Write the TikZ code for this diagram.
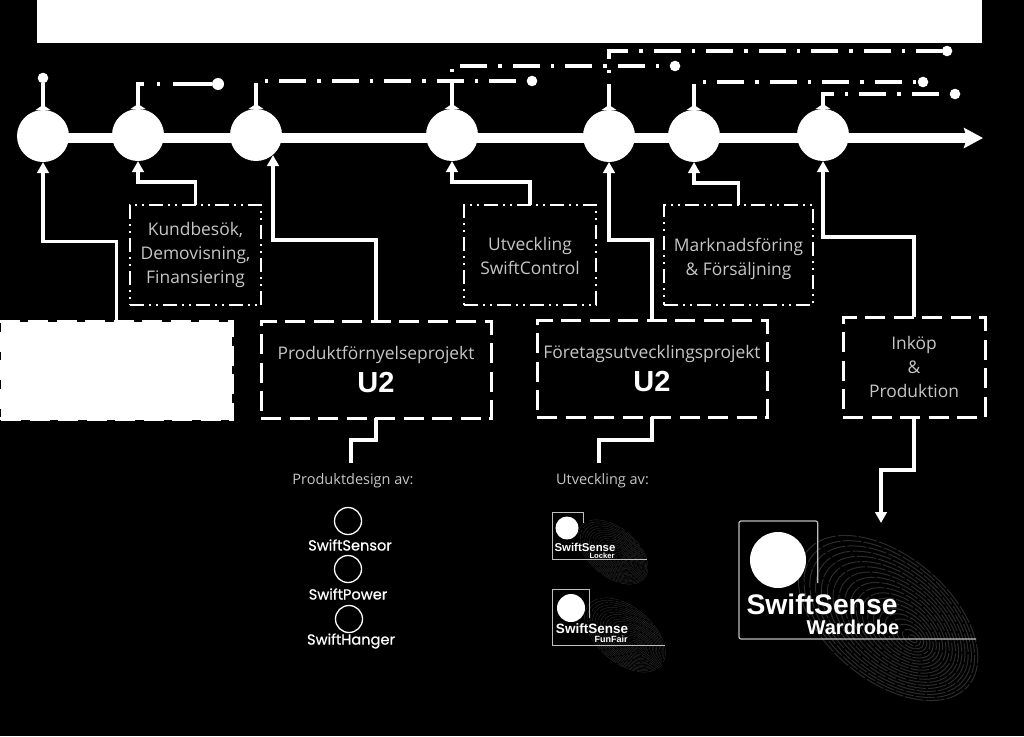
\documentclass[tikz,border=0pt]{standalone}
\usepackage{fontspec}
\setmainfont{Open Sans}
\newfontfamily\logofont{Liberation Sans}
\newfontfamily\swiftfont[FakeBold=0.6]{Poppins}
\usetikzlibrary{arrows.meta, calc, positioning}
\definecolor{softwhite}{RGB}{198,198,198}
\definecolor{ridgegray}{RGB}{44,44,44}
\definecolor{logoline}{RGB}{190,190,190}
\tikzset{fingerprint/.pic={
    \foreach \k in {1,...,20}
        \draw[ridgegray, line width=#1, dash pattern=on 19pt off 2pt, dash phase=7*\k pt]
            ({34-1.7*\k},0) ellipse [x radius=5.25*\k, y radius=3.1*\k];
}}

\begin{document}
\begin{tikzpicture}[x=1pt, y=-1pt, >=Stealth,
        station/.style={circle, fill=white, inner sep=0pt, outer sep=0pt, minimum size=52pt},
        enddot/.style={circle, fill=white, inner sep=0pt, outer sep=0pt, minimum size=10.6pt},
        spine/.style={white, line width=9.4pt, -{Stealth[length=19pt, width=20pt, inset=3pt]}},
        stem/.style={white, line width=3.6pt, {Triangle[reversed, length=5pt, width=15pt]}-},
        outflow/.style={stem, dash pattern=on 27pt off 11pt on 3.5pt off 11pt, dash phase=5pt},
        feed/.style={white, line width=3.4pt, -{Triangle[length=11pt, width=11.5pt]}},
        branch/.style={white, line width=3.4pt},
        thinbox/.style={draw=white, line width=1.8pt, inner sep=0pt, outer sep=0pt, align=center, text=softwhite,
            dash pattern=on 14pt off 5pt on 2pt off 5pt on 2pt off 5pt, font=\fontsize{17.4}{24}\selectfont},
        dashbox/.style={draw=white, line width=3pt, inner sep=0pt, outer sep=0pt, align=center, text=softwhite,
            dash pattern=on 20pt off 8.5pt, font=\fontsize{17.4}{24}\selectfont},
        caption/.style={text=softwhite, font=\fontsize{14.5}{16}\selectfont},
        swift/.style={white, font=\swiftfont\fontsize{14.6}{16}\selectfont},
        ring/.style={circle, draw=white, line width=1.3pt, minimum size=27pt, inner sep=0pt},
        logotext/.style={white, inner sep=0pt, font=\logofont\bfseries},
        logodisc/.style={circle, fill=white, inner sep=0pt}]

        \useasboundingbox (0,0) rectangle (1024,736);
        \fill[black] (0,0) rectangle (1024,736);

        % Header
        \node[fill=white, inner sep=0pt, minimum width=945pt, minimum height=43pt] (header) at (509.5,21.5) {};

        % Spine
        \coordinate (spinestart) at (43,138);
        \coordinate (spineend) at (983,138);
        \draw[spine] (spinestart) -- (spineend);

        % Stations
        \node[station] (s1) at (43,136) {};
        \node[station] (s2) at (138,135) {};
        \node[station] (s3) at (256,135) {};
        \node[station] (s4) at (452,135) {};
        \node[station] (s5) at (609,136) {};
        \node[station] (s6) at (694,136) {};
        \node[station] (s7) at (823,135) {};

        % End dots
        \node[enddot] (e1) at (43,78) {};
        \node[enddot, minimum size=12pt] (e2) at (218,84) {};
        \node[enddot] (e3) at (532,81) {};
        \node[enddot] (e4) at (675,66) {};
        \node[enddot] (e5) at (947,51) {};
        \node[enddot] (e6) at (923,82) {};
        \node[enddot] (e7) at (955,94) {};

        % Outgoing lines
        \draw[stem] (s1) -- (e1);
        \draw[outflow, dash pattern=on 32pt off 13pt on 3.5pt off 13pt on 40pt off 0pt] (s2) |- (e2);
        \draw[outflow] (s3) |- (e3);
        \draw[outflow] (s4) |- (e4);
        \draw[outflow] (s5) |- (e5);
        \draw[outflow] (s6) |- (e6);
        \draw[outflow] (s7) |- (e7);

        % Activity boxes
        \node[thinbox, minimum width=131.5pt, minimum height=100pt] (kund) at (195.5,255) {Kundbesök,\\Demovisning,\\Finansiering};
        \node[thinbox, minimum width=132pt, minimum height=100pt, text depth=0pt] (utv) at (530,255) {\raisebox{-2pt}{Utveckling}\\\raisebox{-2pt}{SwiftControl}};
        \node[thinbox, minimum width=149pt, minimum height=100pt, text depth=0pt] (mark) at (738.5,255) {\raisebox{-4pt}{Marknadsföring}\\\raisebox{-4pt}{\& Försäljning}};

        % Project boxes
        \node[dashbox, fill=white, minimum width=231pt, minimum height=98pt] (blank) at (116.5,370.5) {};
        \node[dashbox, minimum width=230pt, minimum height=97pt] (prod) at (376,369.5) {Produktförnyelseprojekt\\[8pt]{\logofont\bfseries\fontsize{29}{30}\selectfont\color{white}U2}};
        \node[dashbox, minimum width=230pt, minimum height=97pt] (foretag) at (652,368.5) {Företagsutvecklingsprojekt\\[7pt]{\logofont\bfseries\fontsize{29}{30}\selectfont\color{white}U2}};
        \node[dashbox, minimum width=142pt, minimum height=100pt] (inkop) at (914,367) {Inköp\\\&\\Produktion};

        % Incoming lines
        \coordinate (s3in) at (273,155);
        \draw[feed] (blank.north) -- ++(0,-80) -| (s1);
        \draw[feed] (kund.north) -- ++(0,-23) -| (s2);
        \draw[feed] (prod.north) -- ++(0,-81) -| (s3in);
        \draw[feed] (utv.north) -- ++(0,-23) -| (s4);
        \draw[feed] (foretag.north) -- ++(0,-80) -| (s5);
        \draw[feed] (mark.north) -- ++(0,-22) -| (s6);
        \draw[feed] (inkop.north) -- ++(0,-80) -| (s7);

        % Lines down
        \coordinate (designtop) at (351,463);
        \coordinate (devtop) at (599,463);
        \coordinate (wardtop) at (881,523);
        \draw[branch] (prod.south) -- ++(0,22) -| (designtop);
        \draw[branch] (foretag.south) -- ++(0,23) -| (devtop);
        \draw[feed] (inkop.south) -- ++(0,53) -| (wardtop);

        % Product design
        \node[caption] (design) at (353,481) {Produktdesign av:};
        \node[ring] (r1) at (348,521) {};
        \node[swift] (sensor) at (350,545) {SwiftSensor};
        \node[ring] (r2) at (348,569) {};
        \node[swift] (power) at (348,594) {SwiftPower};
        \node[ring] (r3) at (349,619) {};
        \node[swift] (hanger) at (351,641) {SwiftHanger};

        % Development
        \node[caption] (dev) at (602.5,481) {Utveckling av:};

        % Locker
        \pic[rotate=-40, scale=0.39] at (613,552) {fingerprint=0.35pt};
        \draw[logoline, line width=0.9pt] (583,523) |- (552,512) |- (647,559);
        \node[logodisc, minimum size=23pt] (lockerdisc) at (567,528) {};
        \node[logotext, font=\logofont\bfseries\fontsize{11.4}{12}\selectfont] (lockername) at (585,547) {SwiftSense};
        \node[logotext, font=\logofont\bfseries\fontsize{7.6}{8}\selectfont] (lockersub) at (602,555.5) {Locker};

        % FunFair
        \pic[rotate=-40, scale=0.45] at (625,635) {fingerprint=0.4pt};
        \draw[logoline, line width=1pt] (589,618) |- (552.5,589) |- (665,645);
        \node[logodisc, minimum size=28pt] (funfairdisc) at (571,608) {};
        \node[logotext, font=\logofont\bfseries\fontsize{13.5}{14}\selectfont] (funfairname) at (592,629) {SwiftSense};
        \node[logotext, font=\logofont\bfseries\fontsize{9}{10}\selectfont] (funfairsub) at (611,639) {FunFair};

        % Wardrobe
        \pic[rotate=-40] at (888,618) {fingerprint=1pt};
        \draw[logoline, line width=1.2pt, rounded corners=2pt] (817.7,583) |- (739,521) |- (976,639);
        \node[logodisc, minimum size=56pt] (warddisc) at (778,560) {};
        \node[logotext, font=\logofont\bfseries\fontsize{28.3}{30}\selectfont] (wardname) at (822,604.5) {SwiftSense};
        \node[logotext, font=\logofont\bfseries\fontsize{20}{22}\selectfont] (wardsub) at (853,627.5) {Wardrobe};
    \end{tikzpicture}
\end{document}
